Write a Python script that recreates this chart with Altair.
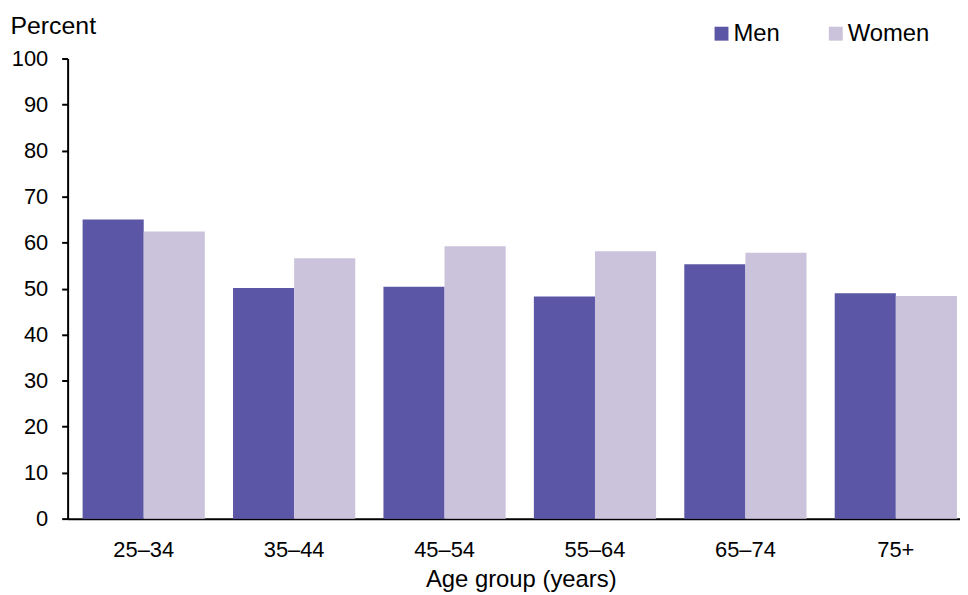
import altair as alt
import pandas as pd

age_groups = ["25–34", "35–44", "45–54", "55–64", "65–74", "75+"]
men = [65.0, 50.1, 50.4, 48.3, 55.3, 49.0]
women = [62.4, 56.6, 59.2, 58.1, 57.8, 48.4]
series = ["Men", "Women"]
colors = ["#5B56A5", "#CBC2DC"]

rows = []
for g, m, w in zip(age_groups, men, women):
    rows.append({"age": g, "sex": "Men", "value": m})
    rows.append({"age": g, "sex": "Women", "value": w})
df = pd.DataFrame(rows)

FONT = "Liberation Sans"

chart = alt.Chart(df).mark_bar().encode(
    x=alt.X("age:N", sort=age_groups,
            scale=alt.Scale(paddingInner=0.1875, paddingOuter=0.06, align=0.83),
            axis=alt.Axis(title="Age group (years)", labelAngle=0, ticks=False,
                          labelPadding=21, domainColor="black",
                          domainWidth=2, labelFontSize=22, titleFontSize=24,
                          labelColor="black", titleColor="black", titleFontWeight="normal",
                          titleX=456, titleY=68, titleAlign="center", titleBaseline="alphabetic",
                          labelFont=FONT, titleFont=FONT)),
    xOffset=alt.XOffset("sex:N", sort=series, scale=alt.Scale(paddingInner=0, paddingOuter=0)),
    y=alt.Y("value:Q", scale=alt.Scale(domain=[0, 100], nice=False),
            axis=alt.Axis(title="Percent", values=list(range(0, 101, 10)), grid=False,
                          tickSize=6, tickColor="black", tickWidth=2, domainColor="black",
                          domainWidth=2, labelPadding=14, labelFontSize=22, titleFontSize=25,
                          labelColor="black", titleColor="black", titleFontWeight="normal",
                          titleAngle=0, titleAlign="left", titleBaseline="alphabetic",
                          titleX=-58, titleY=-25, labelFont=FONT, titleFont=FONT)),
    color=alt.Color("sex:N", sort=series,
                    scale=alt.Scale(domain=series, range=colors),
                    legend=alt.Legend(title=None, orient="none", legendX=646, legendY=-37,
                                      direction="horizontal", symbolType="square",
                                      symbolSize=196, symbolStrokeWidth=0, labelFontSize=24,
                                      labelFont=FONT, labelColor="black", labelOffset=0,
                                      columnPadding=44)),
).properties(
    width=898, height=463,
    autosize=alt.AutoSizeParams(type="none"),
    padding={"left": 60, "top": 49, "right": 0, "bottom": 76},
).configure_view(stroke=None)

chart.save("out.html", embed_options={"renderer": "svg", "actions": False})
